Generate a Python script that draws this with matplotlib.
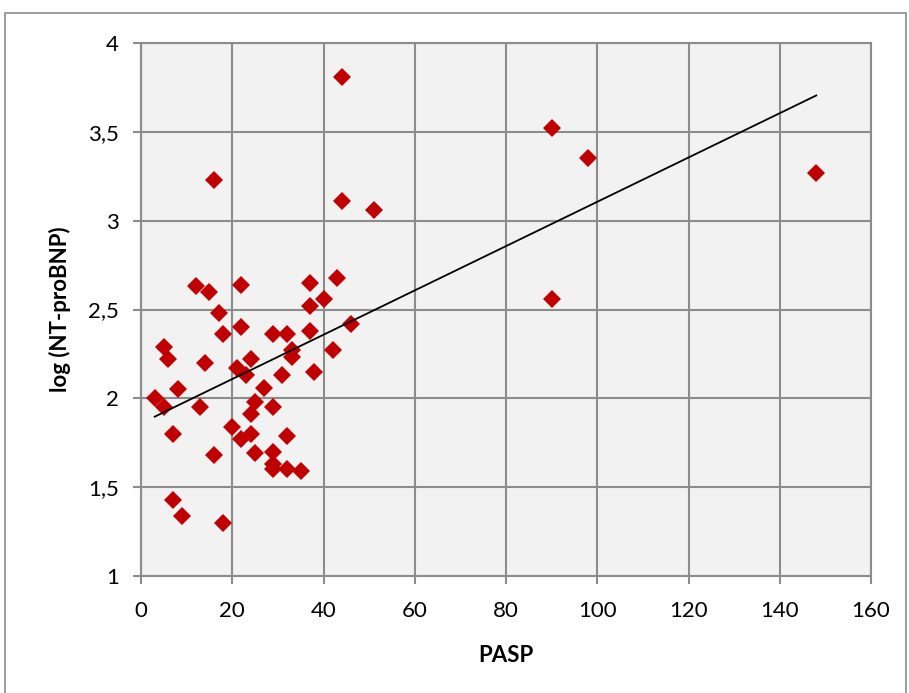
import numpy as np
import matplotlib.pyplot as plt
from matplotlib.patches import Rectangle

# PASP vs log(NT-proBNP)
pasp = [3, 5, 5, 6, 8, 7, 7, 9, 12, 15, 14, 13, 16, 17, 18, 16, 18,
        22, 22, 21, 20, 22, 24, 23, 24, 25, 24, 25, 27,
        37, 43, 40, 37, 29, 32, 37, 46, 42, 33, 33, 31, 38,
        29, 32, 29, 29, 29, 32, 35, 44, 44, 51, 90, 98, 90, 148]
log_ntprobnp = [2.00, 1.95, 2.29, 2.22, 2.05, 1.80, 1.43, 1.34, 2.63, 2.60, 2.20, 1.95,
                3.23, 2.48, 2.36, 1.68, 1.30,
                2.64, 2.40, 2.17, 1.84, 1.77, 2.22, 2.13, 1.91, 1.98, 1.80, 1.69, 2.06,
                2.65, 2.68, 2.56, 2.52, 2.36, 2.36, 2.38, 2.42, 2.27, 2.27, 2.23, 2.13, 2.15,
                1.95, 1.79, 1.70, 1.63, 1.60, 1.60, 1.59, 3.81, 3.11, 3.06, 3.52, 3.35, 2.56, 3.27]

x_ticks = [0, 20, 40, 60, 80, 100, 120, 140, 160]
y_ticks = [1, 1.5, 2, 2.5, 3, 3.5, 4]
y_ticklabels = ["1", "1,5", "2", "2,5", "3", "3,5", "4"]

plt.rcParams['font.family'] = ['Lato', 'DejaVu Sans']

fig = plt.figure(figsize=(9.09, 6.93), dpi=100)
ax = fig.add_axes([141 / 909, 1 - 576 / 693, 730 / 909, 533 / 693])

# outer chart border
fig.patches.append(Rectangle((5 / 909, -0.01), 901 / 909, 1.01 - 13 / 693,
                             transform=fig.transFigure, fill=False,
                             edgecolor="#8c8c8c", linewidth=1.2))

ax.set_facecolor("#f2f2f2")
ax.set_xlim(0, 160)
ax.set_ylim(1, 4)
ax.set_xticks(x_ticks)
ax.set_yticks(y_ticks)
ax.set_yticklabels(y_ticklabels)
ax.grid(True, color="#8c8c8c", linewidth=1.5)
ax.set_axisbelow(True)
for s in ax.spines.values():
    s.set_color("#8c8c8c")
    s.set_linewidth(1.5)
ax.tick_params(colors="#8c8c8c", labelcolor="black", labelsize=16,
               length=6, width=1.5, pad=10)
ax.tick_params(axis="x", pad=12)

ax.plot(pasp, log_ntprobnp, linestyle="none", marker="D", markersize=9,
        color="#c00000", markeredgewidth=0, zorder=3)

# linear trendline
slope, intercept = np.polyfit(pasp, log_ntprobnp, 1)
xs = np.array([min(pasp), max(pasp)])
ax.plot(xs, slope * xs + intercept, color="black", linewidth=1.3, zorder=4)

ax.set_xlabel("PASP", fontsize=16, fontweight="bold", labelpad=17)
ax.set_ylabel("log (NT-proBNP)", fontsize=16, fontweight="bold", labelpad=12)

fig.savefig("out.png", dpi=100)
